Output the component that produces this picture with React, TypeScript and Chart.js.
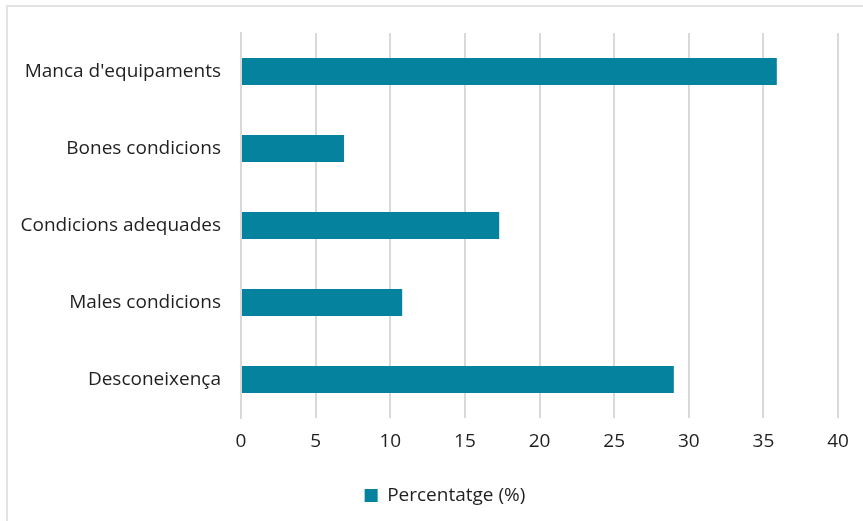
import React, { useEffect, useRef } from "react";
import { Chart, registerables } from "chart.js";

Chart.register(...registerables);

const categories = [
  "Manca d'equipaments",
  "Bones condicions",
  "Condicions adequades",
  "Males condicions",
  "Desconeixença",
];
const values = [35.9, 6.9, 17.3, 10.8, 29.0];
const seriesLabel = "Percentatge (%)";
const xMin = 0;
const xMax = 40;
const xStep = 5;

const BAR_COLOR = "#05829d";
const GRID_COLOR = "#d9d9d9";
const TEXT_COLOR = "#1f1f1f";
const FONT = "'Open Sans', Lato, sans-serif";
const FONT_SIZE = 19;

const legendShift = {
  id: "legendShift",
  afterLayout(chart: any) {
    const lg = chart.legend;
    if (lg) {
      lg.left += 21;
      lg.right += 21;
    }
  },
};

export default function App() {
  const canvasRef = useRef<HTMLCanvasElement | null>(null);

  useEffect(() => {
    if (!canvasRef.current) return;
    const chart = new Chart(canvasRef.current, {
      type: "bar",
      data: {
        labels: categories,
        datasets: [
          {
            label: seriesLabel,
            data: values,
            backgroundColor: BAR_COLOR,
            borderWidth: 0,
            categoryPercentage: 0.7,
            barPercentage: 0.5,
          },
        ],
      },
      plugins: [legendShift],
      options: {
        indexAxis: "y",
        animation: false,
        responsive: false,
        maintainAspectRatio: false,
        layout: { padding: { top: 33, right: 25, bottom: 6, left: 10 } },
        plugins: {
          legend: {
            position: "bottom",
            labels: {
              boxWidth: 13,
              boxHeight: 13,
              padding: 10,
              color: TEXT_COLOR,
              font: { family: FONT, size: FONT_SIZE },
            },
          },
          tooltip: { enabled: false },
        },
        scales: {
          x: {
            min: xMin,
            max: xMax,
            ticks: {
              stepSize: xStep,
              color: TEXT_COLOR,
              padding: 12,
              font: { family: FONT, size: FONT_SIZE },
            },
            grid: {
              color: GRID_COLOR,
              lineWidth: 2,
              drawTicks: false,
            },
            border: { display: false },
            afterFit: (scale: any) => {
              scale.height = 58;
            },
          },
          y: {
            ticks: {
              color: TEXT_COLOR,
              padding: 20,
              font: { family: FONT, size: FONT_SIZE },
            },
            grid: { display: false, drawTicks: false },
            border: { display: true, color: GRID_COLOR, width: 2 },
            afterFit: (scale: any) => {
              scale.width = 231;
            },
          },
        },
      },
    });
    return () => chart.destroy();
  }, []);

  return (
    <div
      style={{
        position: "absolute",
        left: 0,
        top: 0,
        width: 863,
        height: 521,
        overflow: "hidden",
        background: "#fff",
      }}
    >
      <div
        style={{
          position: "absolute",
          left: 6,
          top: 5,
          width: 880,
          height: 540,
          borderLeft: "2px solid #e3e3e3",
          borderTop: "2px solid #e3e3e3",
        }}
      />
      <canvas
        ref={canvasRef}
        width={863}
        height={521}
        style={{ position: "absolute", left: 0, top: 0, width: 863, height: 521 }}
      />
    </div>
  );
}
